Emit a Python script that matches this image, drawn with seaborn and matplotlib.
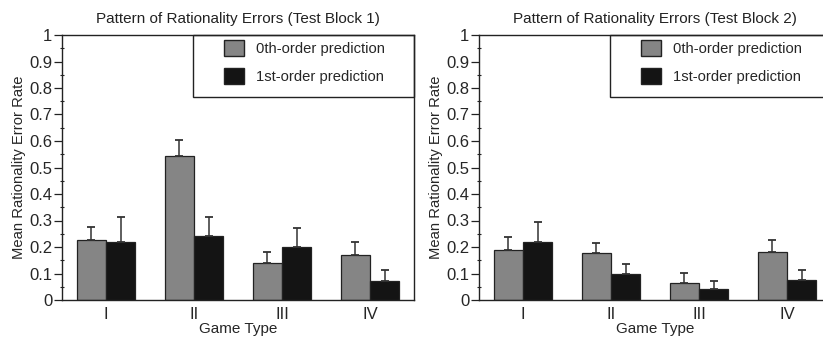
import matplotlib
matplotlib.use("Agg")
import matplotlib.pyplot as plt
import seaborn as sns
import pandas as pd
import numpy as np
from matplotlib.patches import Patch, Rectangle
from matplotlib.ticker import MultipleLocator

sns.set_style("white")
plt.rcParams['font.family'] = ['Liberation Sans', 'DejaVu Sans']

games = ["I", "II", "III", "IV"]
series = ["0th-order prediction", "1st-order prediction"]
b1_zero = [0.227, 0.543, 0.140, 0.170]
b1_zero_err = [0.050, 0.062, 0.043, 0.047]
b1_first = [0.220, 0.240, 0.200, 0.072]
b1_first_err = [0.092, 0.075, 0.072, 0.041]
b2_zero = [0.187, 0.178, 0.065, 0.180]
b2_zero_err = [0.051, 0.037, 0.036, 0.045]
b2_first = [0.220, 0.100, 0.042, 0.075]
b2_first_err = [0.075, 0.037, 0.028, 0.040]
titles = ["Pattern of Rationality Errors (Test Block 1)", "Pattern of Rationality Errors (Test Block 2)"]
colors = ["#858585", "#141414"]

fig = plt.figure(figsize=(8.23, 3.38), dpi=100)
W, H = 823, 338
AW, AH = 352, 265
axes = [fig.add_axes([62 / W, 1 - 300 / H, AW / W, AH / H]),
        fig.add_axes([479 / W, 1 - 300 / H, AW / W, AH / H])]

blocks = [(b1_zero, b1_zero_err, b1_first, b1_first_err),
          (b2_zero, b2_zero_err, b2_first, b2_first_err)]

for ax, (z, ze, f, fe), title in zip(axes, blocks, titles):
    df = pd.DataFrame({
        "game": games * 2,
        "series": [series[0]] * 4 + [series[1]] * 4,
        "value": z + f,
        "err": ze + fe,
    })
    sns.barplot(data=df, x="game", y="value", hue="series", order=games,
                hue_order=series, palette=colors, width=0.67, errorbar=None,
                edgecolor="#222222", linewidth=0.9, ax=ax, legend=False)
    bars = [p for p in ax.patches if p.get_height() > 0]
    bars = sorted(bars, key=lambda p: p.get_x())
    vals = []
    for i in range(4):
        vals.append((z[i], ze[i]))
        vals.append((f[i], fe[i]))
    for p, (v, e) in zip(bars, vals):
        xc = p.get_x() + p.get_width() / 2
        ax.errorbar(xc, v, yerr=[[0], [e]], fmt="none", ecolor="#333333",
                    elinewidth=1.1, capsize=3, capthick=1.3)
    ax.set_xlim(-0.5, 3.5)
    ax.set_ylim(0, 1)
    ax.yaxis.set_minor_locator(MultipleLocator(0.05))
    ax.set_yticks(np.arange(0, 1.01, 0.1))
    ax.set_yticklabels(["0", "0.1", "0.2", "0.3", "0.4", "0.5", "0.6", "0.7", "0.8", "0.9", "1"])
    ax.set_xticks([0.5, 1.5, 2.5], minor=True)
    ax.tick_params(axis="x", which="major", length=0, labelsize=12, pad=5)
    ax.tick_params(axis="x", which="minor", length=8, width=0.9, direction="inout", color="#222222")
    ax.tick_params(axis="y", which="major", length=6, width=0.9, direction="out", labelsize=12, pad=1, left=True, color="#222222")
    ax.tick_params(axis="y", which="minor", length=3, width=0.8, direction="inout", left=True, color="#222222")
    for s in ax.spines.values():
        s.set_color("#222222")
        s.set_linewidth(1.0)
        s.set_zorder(7)
    ax.set_xlabel("Game Type", fontsize=11, labelpad=0)
    ax.set_ylabel("Mean Rationality Error Rate", fontsize=10.6, labelpad=2)
    ax.set_title(title, fontsize=11, pad=9, color="#222222")
    # legend frame
    x0 = (193 - 62) / AW
    y0 = (300 - 97) / AH
    ax.add_patch(Rectangle((x0, y0), 1 - x0, 1 - y0,
                           transform=ax.transAxes, facecolor="white",
                           edgecolor="#222222", linewidth=1.0, zorder=5, clip_on=False))
    handles = [Patch(facecolor=colors[0], edgecolor="#222222"),
               Patch(facecolor=colors[1], edgecolor="#222222")]
    leg = ax.legend(handles, series, loc="upper left",
                    bbox_to_anchor=((224 - 62) / AW, (300 - 40) / AH),
                    fontsize=10.6, frameon=False, borderaxespad=0, borderpad=0,
                    handlelength=1.36, handleheight=1.3, handletextpad=0.8,
                    labelspacing=0.8)
    leg.set_zorder(6)

fig.savefig("out.png", dpi=100)
